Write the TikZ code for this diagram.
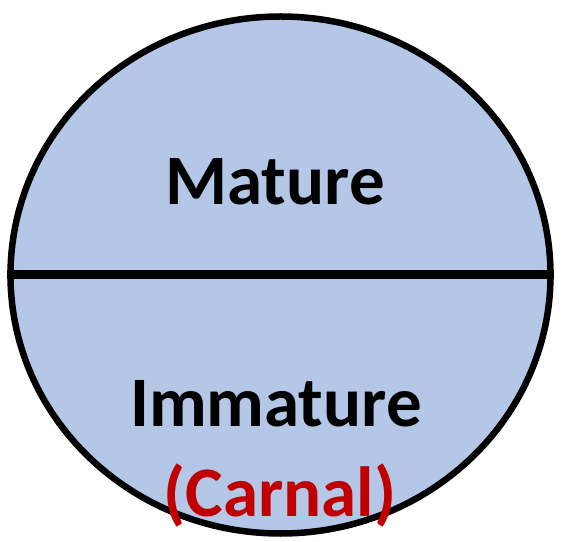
\documentclass[tikz,border=0pt]{standalone}
\usepackage{fontspec}
\setsansfont{Carlito}
\usetikzlibrary{shapes.geometric}
\definecolor{paleblue}{RGB}{180,199,231}
\definecolor{carnalred}{RGB}{192,0,0}
\begin{document}
\begin{tikzpicture}[
   x=1pt,y=1pt,
   font=\sffamily\bfseries,
   disk/.style={draw,ellipse,fill=paleblue,line width=6.5pt,inner sep=0pt,
                minimum width=540pt,minimum height=517pt},
   divide/.style={line width=9pt},
   word/.style={anchor=base,inner sep=0pt,font=\sffamily\bfseries\fontsize{71}{75}\selectfont}]
\useasboundingbox (0,0) rectangle (562,541);
\node[disk] (soul) at (280.5,266) {};
\draw[divide] (soul.west) -- (soul.east);
\node[word] (mature) at (275,336) {Mature};
\node[word] (immature) at (276,114) {Immature};
\node[word,text=carnalred] (carnal) at (280,25) {(Carnal)};
\end{tikzpicture}
\end{document}
